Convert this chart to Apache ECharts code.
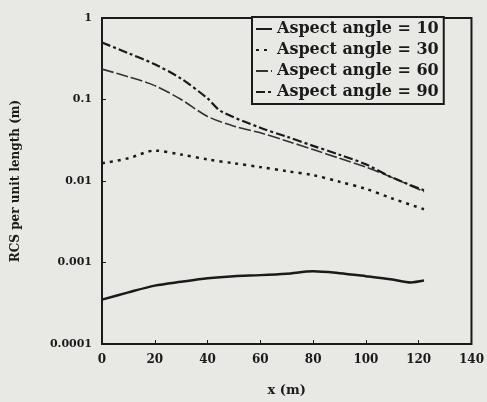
<!DOCTYPE html>
<html><head><meta charset="utf-8">
<script src="https://cdn.jsdelivr.net/npm/echarts@6/dist/echarts.min.js"></script>
<style>html,body{margin:0;padding:0;background:#e8e8e5;overflow:hidden;width:487px;height:402px;}#c{width:487px;height:402px;}</style>
</head><body><div id="c"></div>
<script>
const seriesNames = ['Aspect angle = 10', 'Aspect angle = 30', 'Aspect angle = 60', 'Aspect angle = 90'];
const xTicks = [0, 20, 40, 60, 80, 100, 120, 140];
const yTicks = [0.0001, 0.001, 0.01, 0.1, 1];
const yTickLabels = ['0.0001', '0.001', '0.01', '0.1', '1'];

const aspect10 = [[0,0.00035],[10,0.00043],[20,0.00052],[30,0.00058],[40,0.00064],[50,0.00068],[60,0.0007],[70,0.00073],[80,0.00078],[90,0.00074],[100,0.00068],[110,0.00062],[117,0.00057],[122,0.0006]];
const aspect30 = [[0,0.0165],[10,0.019],[20,0.0236],[30,0.0211],[40,0.0184],[50,0.0165],[60,0.0148],[70,0.0132],[80,0.0118],[90,0.0098],[100,0.008],[110,0.0061],[122,0.0045]];
const aspect60 = [[0,0.236],[10,0.19],[20,0.148],[30,0.1],[40,0.062],[50,0.047],[60,0.039],[70,0.031],[80,0.0243],[90,0.019],[100,0.0148],[110,0.011],[122,0.0074]];
const aspect90 = [[0,0.5],[10,0.37],[20,0.27],[30,0.18],[40,0.103],[45,0.072],[60,0.045],[70,0.035],[80,0.027],[90,0.021],[100,0.016],[110,0.011],[122,0.0077]];

const font = 'DejaVu Serif';
const ink = '#1a1a1a';
const chart = echarts.init(document.getElementById('c'));
chart.setOption({
  backgroundColor: '#e8e8e5',
  animation: false,
  grid: {left: 102, right: 14, top: 18, bottom: 52, show: true, borderColor: ink, borderWidth: 2},
  legend: {
    show: true,
    left: 252, top: 17, orient: 'vertical', itemGap: 5, itemWidth: 16, itemHeight: 14,
    itemTextGap: 3,
    padding: [4, 5, 4, 3],
    borderColor: ink, borderWidth: 2, backgroundColor: '#e8e8e5',
    itemStyle: {opacity: 0},
    textStyle: {fontFamily: font, fontWeight: 'bold', fontSize: 16, color: ink},
    data: seriesNames
  },
  xAxis: {
    type: 'value', min: 0, max: 140, interval: 20,
    name: 'x (m)', nameLocation: 'middle', nameGap: 40,
    nameTextStyle: {fontFamily: font, fontWeight: 'bold', fontSize: 13, color: ink},
    axisLine: {show: false},
    axisTick: {inside: true, length: 4, lineStyle: {color: ink}},
    splitLine: {show: false},
    axisLabel: {fontFamily: font, fontWeight: 'bold', fontSize: 12, color: ink, margin: 10,
      formatter: v => xTicks.includes(v) ? String(v) : ''}
  },
  yAxis: {
    type: 'log', logBase: 10, min: 0.0001, max: 1,
    name: 'RCS per unit length (m)', nameLocation: 'middle', nameGap: 80, nameRotate: 90,
    nameTextStyle: {fontFamily: font, fontWeight: 'bold', fontSize: 12, color: ink},
    axisLine: {show: false},
    axisTick: {inside: true, length: 4, lineStyle: {color: ink}},
    splitLine: {show: false},
    axisLabel: {fontFamily: font, fontWeight: 'bold', fontSize: 11, color: ink, margin: 10,
      formatter: v => {
        const i = yTicks.findIndex(t => Math.abs(Math.log10(t) - Math.log10(v)) < 1e-6);
        return i >= 0 ? yTickLabels[i] : '';
      }}
  },
  series: [
    {name: seriesNames[0], type: 'line', data: aspect10, symbol: 'none', smooth: 0.3,
      lineStyle: {color: ink, width: 2.5, type: 'solid'}, itemStyle: {color: ink}},
    {name: seriesNames[1], type: 'line', data: aspect30, symbol: 'none', smooth: 0.3,
      lineStyle: {color: ink, width: 2.5, type: [3, 5]}, itemStyle: {color: ink}},
    {name: seriesNames[2], type: 'line', data: aspect60, symbol: 'none', smooth: 0.3,
      lineStyle: {color: '#333', width: 1.6, type: [12, 3]}, itemStyle: {color: '#333'}},
    {name: seriesNames[3], type: 'line', data: aspect90, symbol: 'none', smooth: 0.3,
      lineStyle: {color: ink, width: 2.2, type: [9, 3, 3, 3]}, itemStyle: {color: ink}}
  ]
});
</script></body></html>
